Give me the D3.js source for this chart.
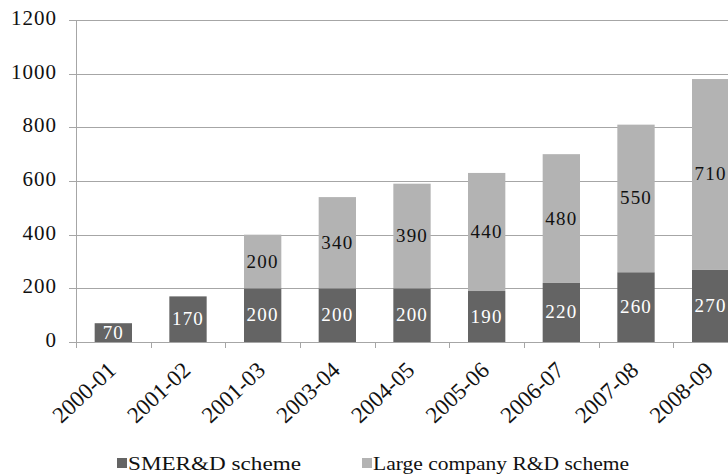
<html><head><meta charset="utf-8"><script src="https://cdn.jsdelivr.net/npm/d3@7"></script></head>
<body style="margin:0">
<svg id="chart" width="728" height="475"></svg>
<script>
// R&D tax credit schemes, £ million, by year
const years = ["2000-01", "2001-02", "2001-03", "2003-04", "2004-05", "2005-06", "2006-07", "2007-08", "2008-09"];
const smeValues = [70, 170, 200, 200, 200, 190, 220, 260, 270];
const largeValues = [null, null, 200, 340, 390, 440, 480, 550, 710];
const yTicks = [0, 200, 400, 600, 800, 1000, 1200];
const seriesNames = ["SMER&D scheme", "Large company R&D scheme"];

const colors = { sme: "#646464", large: "#b3b3b3", grid: "#a6a6a6" };
const face = () => "'Liberation Serif'";

const svg = d3.select("#chart");
const plotLeft = 76, plotRight = 748, plotTop = 20, plotBottom = 342;

const x = d3.scaleBand().domain(years).range([plotLeft, plotRight]).paddingInner(0.5).paddingOuter(0.25);
const y = d3.scaleLinear().domain([0, 1200]).range([plotBottom, plotTop]);

// gridlines with short ticks left of the axis
svg.append("g").selectAll("line").data(yTicks).join("line")
  .attr("x1", plotLeft - 7).attr("x2", 728)
  .attr("y1", d => Math.round(y(d)) + 0.5).attr("y2", d => Math.round(y(d)) + 0.5)
  .attr("stroke", colors.grid).attr("stroke-width", 1);

// y axis line
svg.append("line")
  .attr("x1", plotLeft + 0.5).attr("x2", plotLeft + 0.5)
  .attr("y1", y(1200)).attr("y2", y(0) + 6)
  .attr("stroke", colors.grid);

// x axis ticks at category boundaries
const step = x.step();
svg.append("g").selectAll("line").data(d3.range(years.length + 1)).join("line")
  .attr("x1", i => Math.round(plotLeft + i * step) + 0.5).attr("x2", i => Math.round(plotLeft + i * step) + 0.5)
  .attr("y1", y(0)).attr("y2", y(0) + 6)
  .attr("stroke", colors.grid);

// y tick labels
svg.append("g").selectAll("text").data(yTicks).join("text")
  .attr("x", 57).attr("y", d => y(d) + 5)
  .attr("text-anchor", "end")
  .attr("font-size", 21)
  .style("font-family", face)
  .attr("letter-spacing", 1)
  .attr("fill", "#111")
  .text(d => String(d));

// stacked bars
const rows = years.map((yr, i) => ({ yr, sme: smeValues[i], large: largeValues[i] }));
const bw = x.bandwidth();

svg.append("g").selectAll("rect").data(rows).join("rect")
  .attr("x", d => x(d.yr)).attr("width", bw)
  .attr("y", d => y(d.sme)).attr("height", d => y(0) - y(d.sme))
  .attr("fill", colors.sme);

svg.append("g").selectAll("rect").data(rows.filter(d => d.large)).join("rect")
  .attr("x", d => x(d.yr)).attr("width", bw)
  .attr("y", d => y(d.sme + d.large)).attr("height", d => y(d.sme) - y(d.sme + d.large))
  .attr("fill", colors.large);

// value labels
svg.append("g").selectAll("text").data(rows).join("text")
  .attr("x", d => x(d.yr) + bw / 2).attr("y", d => (y(0) + y(d.sme)) / 2 + 6)
  .attr("text-anchor", "middle")
  .attr("font-size", 19)
  .style("font-family", face)
  .attr("letter-spacing", 1.2)
  .attr("fill", "#fff")
  .text(d => String(d.sme));

svg.append("g").selectAll("text").data(rows.filter(d => d.large)).join("text")
  .attr("x", d => x(d.yr) + bw / 2).attr("y", d => (y(d.sme) + y(d.sme + d.large)) / 2 + 6)
  .attr("text-anchor", "middle")
  .attr("font-size", 19)
  .style("font-family", face)
  .attr("letter-spacing", 1.2)
  .attr("fill", "#111")
  .text(d => String(d.large));

// rotated category labels
svg.append("g").selectAll("text").data(years).join("text")
  .attr("transform", d => `translate(${x(d) + bw / 2 + 4},${y(0) + 30}) rotate(-43)`)
  .attr("text-anchor", "end")
  .attr("font-size", 23)
  .style("font-family", face)
  .attr("fill", "#111")
  .text(d => d);

// legend
const legend = [
  { name: seriesNames[0], color: colors.sme, x: 117, w: 173 },
  { name: seriesNames[1], color: colors.large, x: 362, w: 256 }
];
const lg = svg.append("g").selectAll("g").data(legend).join("g");
lg.append("rect").attr("x", d => d.x).attr("y", 458).attr("width", 10).attr("height", 10).attr("fill", d => d.color);
lg.append("text")
  .attr("x", d => d.x + 11).attr("y", 469.5)
  .attr("font-size", 19)
  .style("font-family", face)
  .attr("fill", "#111")
  .attr("textLength", d => d.w).attr("lengthAdjust", "spacingAndGlyphs")
  .text(d => d.name);
</script></body></html>
